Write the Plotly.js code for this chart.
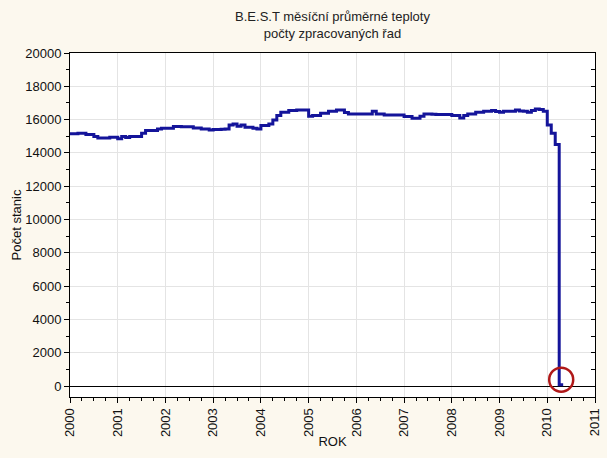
<!DOCTYPE html>
<html>
<head>
<meta charset="utf-8">
<script src="https://cdn.plot.ly/plotly-3.0.1.min.js"></script>
<style>
  html, body { margin: 0; padding: 0; background: #fcf8ee; }
  #chart { width: 607px; height: 458px; }
</style>
</head>
<body>
<div id="chart"></div>
<script>
// Monthly number of processed station series (Jan..Dec)
const startYear = 2000;
const v2000 = [15150, 15150, 15180, 15180, 15100, 15100, 14990, 14890, 14890, 14890, 14940, 14940];
const v2001 = [14850, 14980, 14930, 14990, 14990, 14990, 15180, 15340, 15340, 15340, 15440, 15480];
const v2002 = [15480, 15480, 15580, 15580, 15570, 15570, 15570, 15500, 15500, 15440, 15440, 15380];
const v2003 = [15400, 15400, 15420, 15440, 15680, 15740, 15600, 15680, 15540, 15540, 15480, 15440];
const v2004 = [15640, 15640, 15740, 15980, 16240, 16440, 16440, 16540, 16540, 16580, 16580, 16580];
const v2005 = [16200, 16240, 16240, 16380, 16380, 16500, 16500, 16580, 16580, 16420, 16340, 16340];
const v2006 = [16340, 16340, 16340, 16340, 16500, 16340, 16340, 16280, 16280, 16280, 16280, 16280];
const v2007 = [16180, 16180, 16080, 16080, 16200, 16340, 16340, 16320, 16300, 16300, 16300, 16300];
const v2008 = [16240, 16240, 16100, 16240, 16340, 16340, 16440, 16440, 16500, 16500, 16540, 16480];
const v2009 = [16440, 16500, 16500, 16500, 16580, 16520, 16500, 16440, 16540, 16640, 16600, 16500];
const v2010 = [15680, 15180, 14500, 80, 80]; // last entry closes the April step

const yearBlocks = [v2000, v2001, v2002, v2003, v2004, v2005, v2006, v2007, v2008, v2009, v2010];
const xTickVals = [2000, 2001, 2002, 2003, 2004, 2005, 2006, 2007, 2008, 2009, 2010, 2011];
const yTickVals = [0, 2000, 4000, 6000, 8000, 10000, 12000, 14000, 16000, 18000, 20000];

const titleText = 'B.E.S.T měsíční průměrné teploty<br>počty zpracovaných řad';
const xTitle = 'ROK';
const yTitle = 'Počet stanic';

const xs = [], ys = [];
yearBlocks.forEach((block, yi) => {
  block.forEach((v, m) => { xs.push(startYear + yi + m / 12); ys.push(v); });
});

const font = 'Arial, "Liberation Sans", sans-serif';
const yRange = [-660, 20000];

const trace = {
  x: xs, y: ys, type: 'scatter', mode: 'lines',
  line: { shape: 'hv', color: '#14149a', width: 3 },
  hoverinfo: 'skip', showlegend: false
};

const lastX = xs[xs.length - 2];
const lastY = ys[ys.length - 2];

const layout = {
  width: 607, height: 458,
  paper_bgcolor: '#fcf8ee', plot_bgcolor: '#ffffff',
  margin: { l: 70, r: 12, t: 53, b: 61 },
  font: { family: font, size: 13, color: '#111' },
  title: { text: titleText, x: 0.5, xref: 'paper', xanchor: 'center',
           y: 0.955, yref: 'container', yanchor: 'top',
           font: { family: font, size: 13, color: '#222' } },
  showlegend: false,
  xaxis: {
    range: [2000, 2011], tickmode: 'array', tickvals: xTickVals,
    ticktext: xTickVals.map(String), tickangle: -90,
    ticks: 'outside', ticklen: 5, tickcolor: '#000',
    minor: { dtick: 0.25, tick0: 2000, ticks: 'outside', ticklen: 3, tickcolor: '#000', showgrid: false },
    showgrid: true, gridcolor: '#e4e4e4', gridwidth: 1,
    showline: true, linecolor: '#000', linewidth: 1, mirror: true,
    zeroline: false,
    tickfont: { family: font, size: 13, color: '#111' },
    title: { text: xTitle, standoff: 0, font: { family: font, size: 13, color: '#111' } }
  },
  yaxis: {
    range: yRange, tickmode: 'array', tickvals: yTickVals,
    ticktext: yTickVals.map(String),
    ticks: 'outside', ticklen: 5, tickcolor: '#000',
    minor: { dtick: 1000, tick0: 0, ticks: 'outside', ticklen: 3, tickcolor: '#000', showgrid: false },
    showgrid: true, gridcolor: '#e4e4e4', gridwidth: 1,
    showline: true, linecolor: '#000', linewidth: 1, mirror: true,
    zeroline: true, zerolinecolor: '#000', zerolinewidth: 1,
    tickfont: { family: font, size: 13, color: '#111' },
    title: { text: yTitle, standoff: 0, font: { family: font, size: 13, color: '#111' } }
  },
  yaxis2: {
    overlaying: 'y', side: 'right', range: yRange,
    tickmode: 'array', tickvals: yTickVals, showticklabels: false,
    ticks: 'inside', ticklen: 4, tickcolor: '#000',
    minor: { dtick: 1000, tick0: 0, ticks: 'inside', ticklen: 4, tickcolor: '#000', showgrid: false },
    showgrid: false, zeroline: false, showline: false
  },
  shapes: [{
    type: 'circle', xref: 'x', yref: 'y',
    xsizemode: 'pixel', ysizemode: 'pixel',
    xanchor: lastX, yanchor: lastY,
    x0: -10, x1: 14, y0: -7, y1: 17,
    line: { color: '#b01818', width: 2.5 }
  }]
};

const trace2 = { x: [2000], y: [0], yaxis: 'y2', type: 'scatter', mode: 'markers',
  marker: { opacity: 0 }, hoverinfo: 'skip', showlegend: false };

Plotly.newPlot('chart', [trace, trace2], layout, { staticPlot: true, displayModeBar: false });
</script>
</body>
</html>
